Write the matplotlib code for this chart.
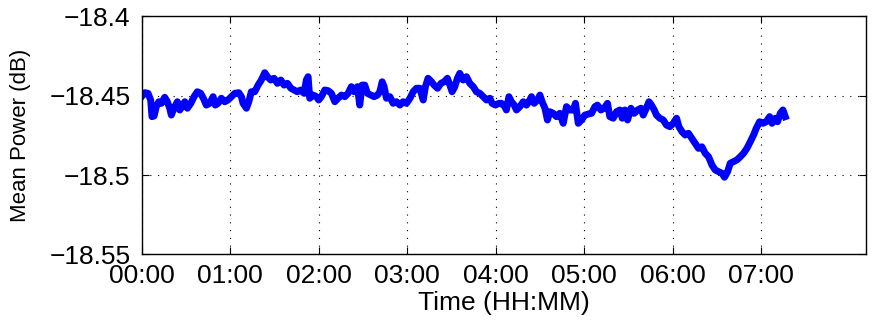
import matplotlib
matplotlib.use("Agg")
import matplotlib.pyplot as plt
from matplotlib.ticker import FuncFormatter

plt.rcParams['font.family'] = ['Liberation Sans', 'DejaVu Sans']
plt.rcParams['font.size'] = 19

# elapsed time (minutes) and mean power (dB)
time_min = [
    0, 2.2, 4.4, 6.2, 7.1, 8.5, 10.0, 11.7, 13.4, 15.7, 17.5, 19.1, 20.2, 22.0, 24.3, 25.9,
    27.5, 29.3, 31.1, 33.4, 35.6, 37.8, 40.1, 41.9, 43.9, 46.2, 48.5, 50.0, 51.9, 54.1, 56.4, 58.6,
    60.9, 63.2, 65.9, 67.7, 68.8, 71.1, 72.7, 74.4, 76.7, 79.0, 81.2, 83.5, 85.3, 87.6, 89.8,
    92.1, 94.4, 96.6, 98.9, 101.2, 103.4, 105.6, 107.9, 110.2, 111.7, 112.9, 114.0, 116.3, 118.5, 120.1,
    121.9, 124.2, 126.4, 128.7, 131.0, 133.2, 135.5, 137.8, 140.0, 142.2, 144.1, 146.3, 147.9, 149.5, 151.3,
    153.1, 155.4, 157.6, 159.9, 161.5, 163.1, 164.4, 166.0, 168.3, 170.5, 172.8, 175.1, 177.3, 179.5, 181.2,
    182.5, 184.1, 186.3, 188.6, 190.9, 192.4, 194.2, 196.5, 198.3, 200.6, 202.9, 205.1, 207.3, 209.0, 210.5,
    212.3, 214.1, 215.7, 218.0, 220.2, 222.5, 224.8, 227.0, 229.3, 231.5, 233.8, 236.1, 237.6, 239.9, 242.2,
    243.9, 246.2, 247.3, 249.0, 250.7, 252.6, 254.1, 256.4, 258.7, 260.9, 262.5, 264.3, 266.1, 268.4, 270.0,
    271.5, 273.4, 275.1, 276.8, 279.0, 281.2, 283.5, 285.8, 288.0, 290.3, 292.6, 294.1, 296.0, 298.2, 300.5, 303.0,
    305.0, 307.3, 309.0, 311.3, 313.6, 315.8, 317.4, 319.7, 321.9, 324.2, 325.8, 327.6, 329.4, 331.7, 333.9,
    336.2, 338.5, 340.0, 341.6, 343.9, 345.6, 347.5, 349.0, 351.3, 353.6, 355.8, 358.1, 360.4, 362.6, 364.2,
    366.3, 368.5, 370.7, 373.0, 375.3, 377.5, 379.8, 382.0, 384.3, 386.6, 388.8, 391.1, 393.4, 395.1, 397.2,
    399.0, 401.2, 403.5, 405.8, 408.0, 410.3, 412.6, 414.8, 416.6, 418.9, 421.2, 423.4, 425.7, 427.3, 429.5,
    431.1, 432.9, 434.7, 436.3,
]
mean_power_db = [
    -18.4506, -18.4481, -18.4485, -18.4527, -18.4632, -18.4628, -18.4569, -18.4538, -18.4548, -18.4510,
    -18.4538, -18.4579, -18.4622, -18.4579, -18.4538, -18.4590, -18.4569, -18.4538, -18.4579, -18.4548,
    -18.4506, -18.4475, -18.4485, -18.4516, -18.4559, -18.4548, -18.4506, -18.4559, -18.4548, -18.4516,
    -18.4538, -18.4527,
    -18.4506, -18.4485, -18.4481, -18.4506, -18.4548, -18.4579, -18.4538, -18.4475, -18.4475, -18.4433,
    -18.4401, -18.4355, -18.4380, -18.4401, -18.4390, -18.4422, -18.4401, -18.4433, -18.4422, -18.4453,
    -18.4464, -18.4475, -18.4464, -18.4485, -18.4401, -18.4380, -18.4516, -18.4496, -18.4506, -18.4527,
    -18.4506, -18.4464, -18.4468, -18.4485, -18.4538, -18.4516, -18.4496, -18.4506, -18.4485, -18.4443,
    -18.4475, -18.4443, -18.4559, -18.4433, -18.4433, -18.4485, -18.4496, -18.4506, -18.4496, -18.4475,
    -18.4412, -18.4443, -18.4516, -18.4506, -18.4548, -18.4538, -18.4559, -18.4538, -18.4548, -18.4527,
    -18.4506, -18.4475, -18.4453, -18.4453, -18.4527, -18.4443, -18.4390, -18.4412, -18.4433, -18.4453,
    -18.4422, -18.4412, -18.4390, -18.4433, -18.4475, -18.4443, -18.4390, -18.4359, -18.4401, -18.4380,
    -18.4422, -18.4443, -18.4475, -18.4485, -18.4506, -18.4527, -18.4516, -18.4548, -18.4559, -18.4548,
    -18.4548, -18.4569, -18.4590, -18.4506, -18.4538, -18.4559, -18.4590, -18.4569, -18.4538, -18.4559,
    -18.4538, -18.4506, -18.4548, -18.4527, -18.4496, -18.4538, -18.4579, -18.4653, -18.4601, -18.4611,
    -18.4632, -18.4611, -18.4674, -18.4569, -18.4590, -18.4590, -18.4548, -18.4674, -18.4653, -18.4622,
    -18.4615,
    -18.4611, -18.4569, -18.4559, -18.4590, -18.4579, -18.4548, -18.4632, -18.4642, -18.4601, -18.4590,
    -18.4642, -18.4590, -18.4653, -18.4579, -18.4611, -18.4590, -18.4579, -18.4622, -18.4590, -18.4538,
    -18.4559, -18.4590, -18.4622, -18.4642, -18.4653, -18.4685, -18.4695, -18.4674, -18.4642, -18.4695,
    -18.4727, -18.4748, -18.4737, -18.4769, -18.4800, -18.4832, -18.4822, -18.4863, -18.4885, -18.4937,
    -18.4968, -18.4979, -18.4989, -18.5014, -18.4979, -18.4926, -18.4916, -18.4905, -18.4885, -18.4863,
    -18.4832, -18.4790, -18.4748, -18.4706, -18.4664, -18.4674, -18.4664, -18.4632, -18.4674, -18.4642,
    -18.4664, -18.4611, -18.4590, -18.4632,
]

hour_ticks = list(range(0, 8))
y_ticks = [-18.55, -18.5, -18.45, -18.4]

fig = plt.figure(figsize=(8.72, 3.25), dpi=100)
ax = fig.add_axes([0.1623, 0.2175, 0.8308, 0.732])

ax.plot(time_min, mean_power_db, color=(0, 0, 1), linewidth=5, solid_joinstyle="round")

ax.set_xlim(0, 491)
ax.set_ylim(-18.55, -18.4)
ax.set_xticks([h * 60 for h in hour_ticks])
ax.xaxis.set_major_formatter(FuncFormatter(lambda v, p: f"{int(round(v / 60)):02d}:00"))
ax.set_yticks(y_ticks)
ax.yaxis.set_major_formatter(FuncFormatter(lambda v, p: f"{v:g}".replace("-", "\u2212")))

ax.tick_params(direction="in", length=5, width=0.8, top=True, right=True, colors="black")
ax.tick_params(axis="x", pad=7)
ax.tick_params(axis="y", pad=8)
ax.grid(True, color="black", linestyle=(0, (1, 6)), linewidth=0.8)
for s in ax.spines.values():
    s.set_linewidth(1.0)
    s.set_color("black")

ax.set_xlabel("Time (HH:MM)", labelpad=2)
ax.set_ylabel("Mean Power (dB)", fontsize=16)
ax.yaxis.set_label_coords(-0.152, 0.5)

fig.savefig("out.png", dpi=100)
